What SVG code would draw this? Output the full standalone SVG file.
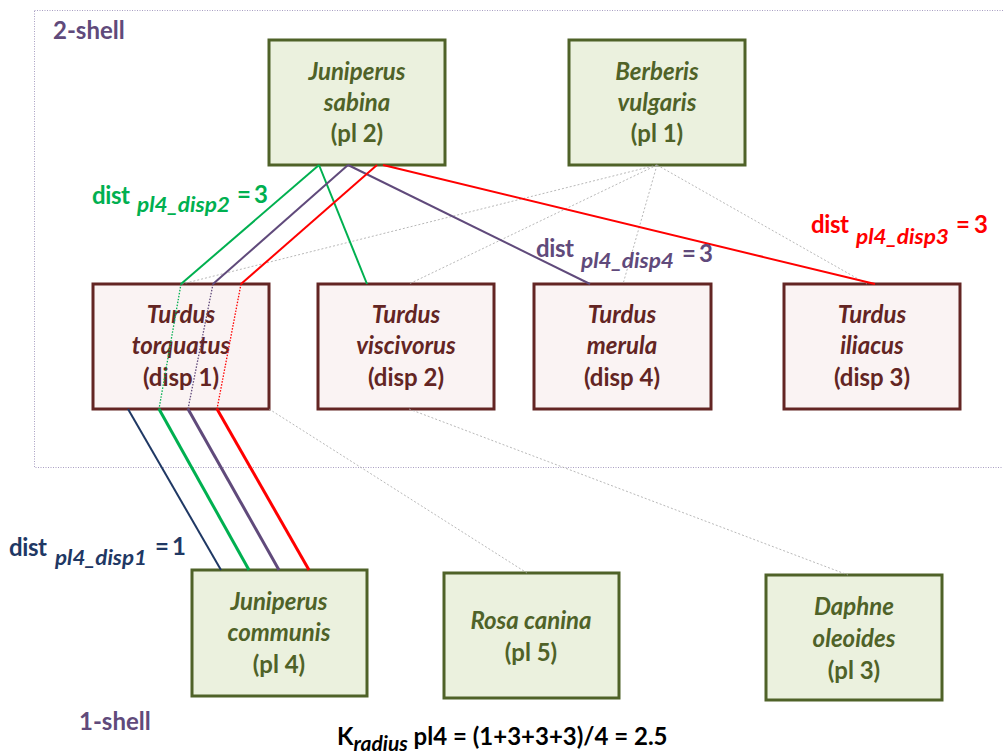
<svg xmlns="http://www.w3.org/2000/svg" width="1003" height="754" viewBox="0 0 1003 754">
<style>
text{font-family:Lato,"Open Sans","Liberation Sans",sans-serif;font-weight:bold;}
.plant rect{fill:#EBF1DE;stroke:#4F6228;stroke-width:3;}
.plant text{fill:#4F6228;font-size:24px;text-anchor:middle;}
.bird rect{fill:#FAF3F3;stroke:#632523;stroke-width:3;}
.bird text{fill:#632523;font-size:24px;text-anchor:middle;}
.it{font-style:italic;}
.gray{stroke:#A6A6A6;stroke-width:0.8;stroke-dasharray:2 2;fill:none;}
.lab{font-size:24px;}
.sub{font-size:21px;font-style:italic;}
</style>
<rect width="1003" height="754" fill="#FFFFFF"/>
<g id="shell2">
<rect x="34.5" y="10.5" width="990" height="457" fill="none" stroke="#A99FC2" stroke-width="1" stroke-dasharray="1 1.5"/>
<text x="53" y="39" font-size="24" fill="#604A7B">2-shell</text>
</g>
<g id="shell1"><text x="79" y="730" font-size="24" fill="#604A7B">1-shell</text></g>

<g id="pl2" class="plant"><rect x="269" y="40" width="176" height="125"/>
<text x="357" y="80" class="it">Juniperus</text><text x="357" y="111" class="it">sabina</text><text x="357" y="142">(pl 2)</text></g>
<g id="pl1" class="plant"><rect x="569" y="40" width="176" height="125"/>
<text x="657" y="80" class="it">Berberis</text><text x="657" y="111" class="it">vulgaris</text><text x="657" y="142">(pl 1)</text></g>

<g id="disp1" class="bird"><rect x="93" y="284" width="176" height="125"/>
<text x="181" y="323" class="it">Turdus</text><text x="181" y="354" class="it">torquatus</text><text x="181" y="386">(disp 1)</text></g>
<g id="disp2" class="bird"><rect x="318" y="284" width="176" height="125"/>
<text x="406" y="323" class="it">Turdus</text><text x="406" y="354" class="it">viscivorus</text><text x="406" y="386">(disp 2)</text></g>
<g id="disp4" class="bird"><rect x="534" y="284" width="177" height="125"/>
<text x="622" y="323" class="it">Turdus</text><text x="622" y="354" class="it">merula</text><text x="622" y="386">(disp 4)</text></g>
<g id="disp3" class="bird"><rect x="784" y="284" width="176" height="125"/>
<text x="872" y="323" class="it">Turdus</text><text x="872" y="354" class="it">iliacus</text><text x="872" y="386">(disp 3)</text></g>

<g id="pl4" class="plant"><rect x="192" y="570" width="175" height="126"/>
<text x="279" y="610" class="it">Juniperus</text><text x="279" y="641" class="it">communis</text><text x="279" y="673">(pl 4)</text></g>
<g id="pl5" class="plant"><rect x="444" y="573" width="175" height="125"/>
<text x="531" y="629" class="it">Rosa canina</text><text x="531" y="661">(pl 5)</text></g>
<g id="pl3" class="plant"><rect x="766" y="575" width="176" height="125"/>
<text x="854" y="615" class="it">Daphne</text><text x="854" y="647" class="it">oleoides</text><text x="854" y="679">(pl 3)</text></g>

<g id="connectors" fill="none">
<path class="gray" d="M657 165 L182 284" stroke-dasharray="4 2 1 2"/>
<path class="gray" d="M657 165 L409 284"/>
<path class="gray" d="M657 165 L623 284"/>
<path class="gray" d="M657 165 L867 284"/>
<path class="gray" d="M269 409 L527 573"/>
<path class="gray" d="M409 409 L848 575"/>
<path d="M319 165 L181 284" stroke="#00B050" stroke-width="2"/>
<path d="M319 165 L367 284" stroke="#00B050" stroke-width="2"/>
<path d="M348 165 L213 284" stroke="#604A7B" stroke-width="2"/>
<path d="M348 165 L590 284" stroke="#604A7B" stroke-width="2"/>
<path d="M377 165 L241 284" stroke="#FF0000" stroke-width="2"/>
<path d="M383 165 L875 284" stroke="#FF0000" stroke-width="2"/>
<path d="M181 284 L159 409" stroke="#00B050" stroke-width="1.3" stroke-dasharray="1.5 1.5"/>
<path d="M213 284 L188 409" stroke="#604A7B" stroke-width="1.3" stroke-dasharray="1.5 1.5"/>
<path d="M241 284 L217 409" stroke="#FF0000" stroke-width="1.3" stroke-dasharray="1.5 1.5"/>
<path d="M128 409 L221 570" stroke="#1F3864" stroke-width="2"/>
<path d="M159 409 L249 570" stroke="#00B050" stroke-width="3"/>
<path d="M188 409 L279 570" stroke="#604A7B" stroke-width="3"/>
<path d="M217 409 L309 570" stroke="#FF0000" stroke-width="3"/>
</g>

<g id="labels">
<text class="lab" fill="#00B050" x="92" y="204" textLength="38">dist</text><text class="sub" fill="#00B050" x="137" y="212" textLength="93" lengthAdjust="spacingAndGlyphs">pl4_disp2</text><text class="lab" fill="#00B050" x="237" y="203" textLength="31">= 3</text>
<text class="lab" fill="#604A7B" x="536" y="257" textLength="38">dist</text><text class="sub" fill="#604A7B" x="581" y="268" textLength="93" lengthAdjust="spacingAndGlyphs">pl4_disp4</text><text class="lab" fill="#604A7B" x="682" y="262" textLength="31">= 3</text>
<text class="lab" fill="#FF0000" x="811" y="233" textLength="38">dist</text><text class="sub" fill="#FF0000" x="856" y="244" textLength="93" lengthAdjust="spacingAndGlyphs">pl4_disp3</text><text class="lab" fill="#FF0000" x="956" y="233" textLength="32">= 3</text>
<text class="lab" fill="#1F3864" x="9" y="556" textLength="38">dist</text><text class="sub" fill="#1F3864" x="55" y="565" textLength="92" lengthAdjust="spacingAndGlyphs">pl4_disp1</text><text class="lab" fill="#1F3864" x="155" y="555" textLength="31">= 1</text>
<text class="lab" fill="#000000" x="337" y="745">K<tspan class="sub" dy="6">radius</tspan><tspan dy="-6"> pl4 = (1+3+3+3)/4 = 2.5</tspan></text>
</g>
</svg>
